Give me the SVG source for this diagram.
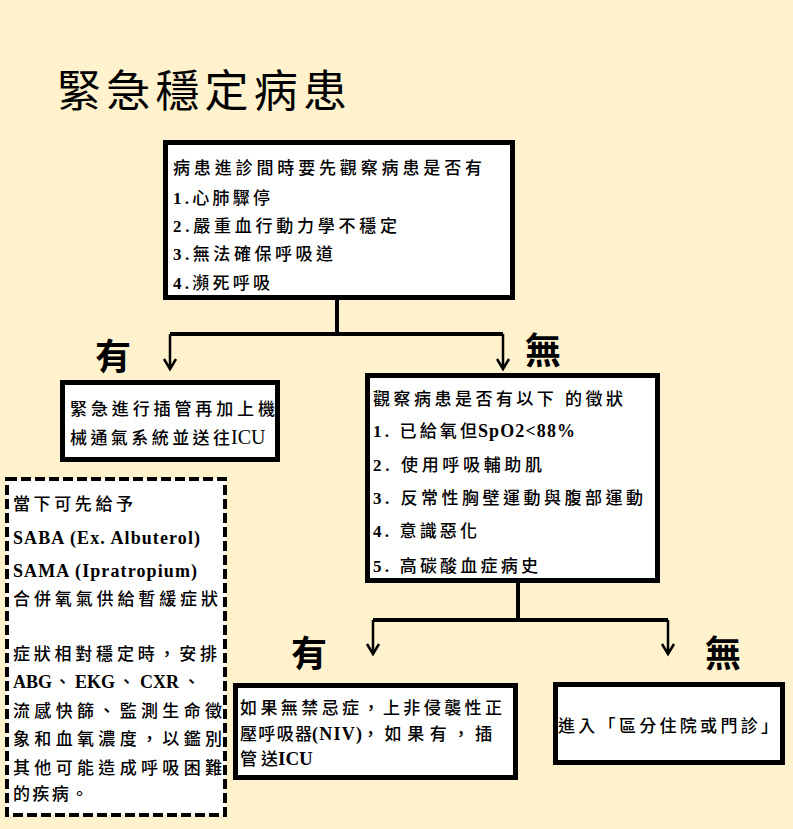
<svg xmlns="http://www.w3.org/2000/svg" width="793" height="829" viewBox="0 0 793 829">
<style>
.bg{fill:#FFF2CC}
.box{fill:#FFFFFF;stroke:#000;stroke-width:5}
.dash{fill:#FFFFFF;stroke:#000;stroke-width:4;stroke-dasharray:10 4}
.t{font-family:"Liberation Serif","Noto Sans CJK TC",serif;font-size:17px;font-weight:500;fill:#000}
.b{font-weight:bold}
.l{font-family:"Liberation Serif",serif;font-size:18px;font-weight:bold;fill:#000}
.lr{font-family:"Liberation Serif",serif;font-size:20px;font-weight:normal;fill:#000}
.lbl{font-family:"Noto Sans CJK TC",sans-serif;font-size:36px;font-weight:bold;fill:#000;text-anchor:middle}
.title{font-family:"Noto Sans CJK TC",sans-serif;font-size:44px;font-weight:400;fill:#000}
.stem{fill:none;stroke:#000;stroke-width:4}
.arr{fill:none;stroke:#000;stroke-width:2.5}
</style>
<rect class="bg" x="0" y="0" width="793" height="829"/>
<text class="title" x="57" y="107" textLength="290" lengthAdjust="spacing">緊急穩定病患</text>

<g id="connectors">
<path class="stem" d="M337 297 V334 M170 334 H503"/>
<path class="arr" d="M170 334 V369 M164 359 L170 369 L176 359"/>
<path class="arr" d="M503 334 V369 M497 359 L503 369 L509 359"/>
<path class="stem" d="M518 580 V620 M373 620 H668"/>
<path class="arr" d="M373 620 V654 M367 644 L373 654 L379 644"/>
<path class="arr" d="M668 620 V654 M662 644 L668 654 L674 644"/>
</g>

<g id="label-yes1"><text class="lbl" x="113" y="370">有</text></g>
<g id="label-no1"><text class="lbl" x="543" y="364">無</text></g>
<g id="label-yes2"><text class="lbl" x="309" y="667">有</text></g>
<g id="label-no2"><text class="lbl" x="723" y="667">無</text></g>

<g id="node-check">
<rect class="box" x="165.5" y="142.5" width="347" height="155"/>
<text class="t" x="173" y="173.5" textLength="309" lengthAdjust="spacing">病患進診間時要先觀察病患是否有</text>
<text class="t" x="173" y="203.5" textLength="97" lengthAdjust="spacing"><tspan class="b">1.</tspan>心肺驟停</text>
<text class="t" x="173" y="231.5" textLength="224" lengthAdjust="spacing"><tspan class="b">2.</tspan>嚴重血行動力學不穩定</text>
<text class="t" x="173" y="259.5" textLength="160" lengthAdjust="spacing"><tspan class="b">3.</tspan>無法確保呼吸道</text>
<text class="t" x="173" y="288.5" textLength="97" lengthAdjust="spacing"><tspan class="b">4.</tspan>瀕死呼吸</text>
</g>

<g id="node-intubate">
<rect class="box" x="62.5" y="382.5" width="215" height="77"/>
<text class="t" x="70" y="414.5" textLength="205" lengthAdjust="spacing">緊急進行插管再加上機</text>
<text class="t" x="70" y="443.5" textLength="160" lengthAdjust="spacing">械通氣系統並送往</text>
<text class="lr" x="231" y="443.5">ICU</text>
</g>

<g id="node-symptoms">
<rect class="box" x="367.5" y="375.5" width="290" height="205"/>
<text class="t" x="373" y="404.5" textLength="250" lengthAdjust="spacing">觀察病患是否有以下 的徵狀</text>
<text class="t" x="373" y="436.5" textLength="104" lengthAdjust="spacing"><tspan class="b">1.</tspan> 已給氧但</text>
<text class="l" x="478" y="436.5" textLength="97" lengthAdjust="spacing">SpO2&lt;88%</text>
<text class="t" x="373" y="470.5" textLength="169" lengthAdjust="spacing"><tspan class="b">2.</tspan> 使用呼吸輔助肌</text>
<text class="t" x="373" y="503.5" textLength="270" lengthAdjust="spacing"><tspan class="b">3.</tspan> 反常性胸壁運動與腹部運動</text>
<text class="t" x="373" y="536.5" textLength="104" lengthAdjust="spacing"><tspan class="b">4.</tspan> 意識惡化</text>
<text class="t" x="373" y="571.5" textLength="165" lengthAdjust="spacing"><tspan class="b">5.</tspan> 高碳酸血症病史</text>
</g>

<g id="node-initial">
<rect class="dash" x="7" y="479" width="218" height="336"/>
<text class="t" x="13" y="509.5" textLength="120" lengthAdjust="spacing">當下可先給予</text>
<text class="l" x="13" y="543.5" textLength="187" lengthAdjust="spacing">SABA (Ex. Albuterol)</text>
<text class="l" x="13" y="576.5" textLength="184" lengthAdjust="spacing">SAMA (Ipratropium)</text>
<text class="t" x="13" y="604.5" textLength="205" lengthAdjust="spacing">合併氧氣供給暫緩症狀</text>
<text class="t" x="13" y="659.5" textLength="204" lengthAdjust="spacing">症狀相對穩定時，安排</text>
<text class="l" y="687.5"><tspan x="13">ABG</tspan><tspan x="75">EKG</tspan><tspan x="140">CXR</tspan></text>
<text class="t" y="687.5"><tspan x="54">、</tspan><tspan x="118">、</tspan><tspan x="183">、</tspan></text>
<text class="t" x="13" y="716.5" textLength="209" lengthAdjust="spacing">流感快篩、監測生命徵</text>
<text class="t" x="13" y="744.5" textLength="209" lengthAdjust="spacing">象和血氧濃度，以鑑別</text>
<text class="t" x="13" y="773.5" textLength="209" lengthAdjust="spacing">其他可能造成呼吸困難</text>
<text class="t" x="13" y="799.5" textLength="75" lengthAdjust="spacing">的疾病。</text>
</g>

<g id="node-niv">
<rect class="box" x="235.5" y="685.5" width="280" height="92"/>
<text class="t" x="240" y="713.5" textLength="262" lengthAdjust="spacing">如果無禁忌症，上非侵襲性正</text>
<text class="t" x="240" y="739.5" textLength="72" lengthAdjust="spacing">壓呼吸器</text>
<text class="l" x="312" y="739.5" textLength="50" lengthAdjust="spacing">(NIV)</text>
<text class="t" x="362" y="739.5" textLength="130" lengthAdjust="spacing">，如果有，插</text>
<text class="t" x="240" y="764.5" textLength="38" lengthAdjust="spacing">管送</text>
<text class="l" x="278" y="764.5" style="font-size:19px">ICU</text>
</g>

<g id="node-triage">
<rect class="box" x="555.5" y="684.5" width="227" height="78"/>
<text class="t" x="558" y="731.5" textLength="220" lengthAdjust="spacing">進入「區分住院或門診」</text>
</g>
</svg>
